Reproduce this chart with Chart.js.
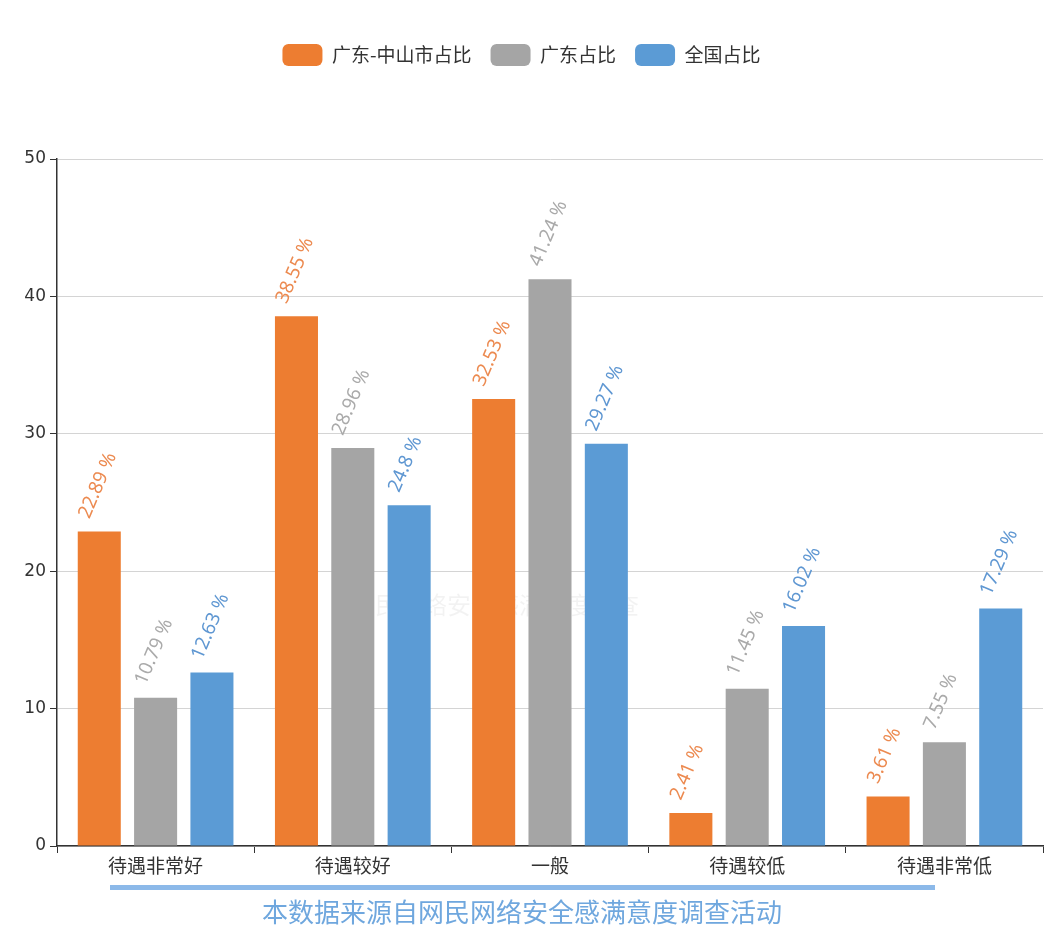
<!DOCTYPE html>
<html>
<head>
<meta charset="utf-8">
<script src="https://cdn.jsdelivr.net/npm/chart.js@4/dist/chart.umd.min.js"></script>
<style>
  html, body { margin: 0; padding: 0; background: #fff; }
  #wrap { width: 1046px; height: 926px; }
</style>
</head>
<body>
<div id="wrap"><canvas id="chart"></canvas></div>
<script>
const categories = ["待遇非常好", "待遇较好", "一般", "待遇较低", "待遇非常低"];
const zhongshan = [22.89, 38.55, 32.53, 2.41, 3.61];
const guangdong = [10.79, 28.96, 41.24, 11.45, 7.55];
const national = [12.63, 24.8, 29.27, 16.02, 17.29];
const yTicks = [0, 10, 20, 30, 40, 50];
const footerText = "本数据来源自网民网络安全感满意度调查活动";
const watermarkText = "网民网络安全感满意度调查";

const FONT = "'Noto Sans CJK SC', 'Noto Sans', sans-serif";

// extra room under the legend
const legendGap = {
    id: "legendGap",
    afterInit(chart) {
        const orig = chart.legend.fit;
        chart.legend.fit = function () {
            orig.call(this);
            this.height += 83;
        };
    }
};

// faint watermark behind the bars
const watermark = {
    id: "watermark",
    beforeDatasetsDraw(chart) {
        const ctx = chart.ctx;
        ctx.save();
        ctx.font = "24px " + FONT;
        ctx.fillStyle = "rgba(0,0,0,0.05)";
        ctx.textAlign = "center";
        ctx.textBaseline = "middle";
        ctx.fillText(watermarkText, 495, 605);
        ctx.restore();
    }
};

// rotated value labels above bars
const barLabels = {
    id: "barLabels",
    afterDatasetsDraw(chart) {
        const ctx = chart.ctx;
        chart.data.datasets.forEach((ds, i) => {
            const meta = chart.getDatasetMeta(i);
            meta.data.forEach((bar, j) => {
                ctx.save();
                ctx.translate(bar.x - 15, bar.y - 14);
                ctx.rotate(-67 * Math.PI / 180);
                ctx.font = "19px 'Noto Sans', sans-serif";
                ctx.fillStyle = ds.labelColor;
                ctx.textAlign = "left";
                ctx.textBaseline = "middle";
                ctx.fillText(ds.data[j] + " %", 0, 0);
                ctx.restore();
            });
        });
    }
};

// blue line and source text under the axis
const footer = {
    id: "footer",
    afterDraw(chart) {
        const ctx = chart.ctx;
        ctx.save();
        ctx.fillStyle = "#8cb9e9";
        ctx.fillRect(110, 885, 825, 5);
        ctx.font = "26px " + FONT;
        ctx.fillStyle = "#6fa7de";
        ctx.textAlign = "center";
        ctx.textBaseline = "middle";
        ctx.fillText(footerText, 522, 912);
        ctx.restore();
    }
};

new Chart(document.getElementById("chart"), {
    type: "bar",
    data: {
        labels: categories,
        datasets: [
            { label: "广东-中山市占比", data: zhongshan, backgroundColor: "#ed7d31", labelColor: "#ec8a50" },
            { label: "广东占比", data: guangdong, backgroundColor: "#a5a5a5", labelColor: "#aaaaaa" },
            { label: "全国占比", data: national, backgroundColor: "#5b9bd5", labelColor: "#5f97d2" }
        ]
    },
    options: {
        responsive: true,
        maintainAspectRatio: false,
        animation: false,
        categoryPercentage: 0.857,
        barPercentage: 0.764,
        layout: { padding: { top: 25, right: 3, bottom: 50, left: 0 } },
        plugins: {
            legend: {
                position: "top",
                labels: {
                    boxWidth: 40,
                    boxHeight: 22,
                    useBorderRadius: true,
                    borderRadius: 6,
                    padding: 19,
                    color: "#333",
                    font: { size: 19, family: FONT }
                }
            },
            tooltip: { enabled: false }
        },
        scales: {
            x: {
                grid: { drawOnChartArea: false, tickLength: 7, tickColor: "#333", offset: true },
                border: { color: "#333", width: 1.5 },
                ticks: { color: "#333", font: { size: 19, family: FONT }, padding: 1 },
                afterFit: s => { s.height = 30; }
            },
            y: {
                min: 0,
                max: 50,
                afterBuildTicks: s => { s.ticks = yTicks.map(v => ({ value: v })); },
                grid: { color: "#d4d4d4", tickLength: 7, tickColor: "#333" },
                border: { color: "#333", width: 1.5 },
                ticks: { color: "#333", font: { size: 17, family: "'DejaVu Sans', sans-serif" }, padding: 4 },
                afterFit: s => { s.width = 57; }
            }
        }
    },
    plugins: [legendGap, watermark, barLabels, footer]
});
</script>
</body>
</html>
